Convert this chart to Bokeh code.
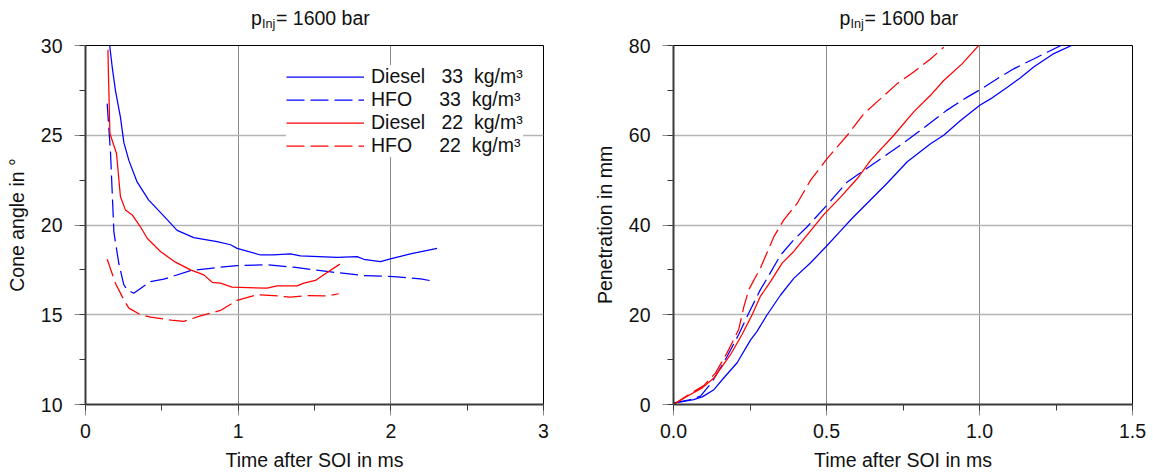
from bokeh.plotting import figure
from bokeh.layouts import row, column
from bokeh.models import (Range1d, SingleIntervalTicker, Legend, LegendItem, Label,
                          NumeralTickFormatter)
from bokeh.embed import file_html
from bokeh.resources import INLINE

# ---------------- data: cone angle (left) ----------------
t_d33 = [0.157, 0.175, 0.196, 0.229, 0.251, 0.284, 0.338, 0.413, 0.535, 0.60, 0.709, 0.862, 0.95, 0.993,
         1.146, 1.23, 1.342, 1.408, 1.648, 1.779, 1.823, 1.932, 1.997, 2.128, 2.303]
a_d33 = [30.1, 28.8, 27.5, 26.0, 24.6, 23.6, 22.4, 21.4, 20.3, 19.7, 19.3, 19.07, 18.9, 18.7,
         18.33, 18.33, 18.39, 18.28, 18.19, 18.24, 18.09, 17.96, 18.11, 18.39, 18.7]

t_h33 = [0.142, 0.164, 0.186, 0.218, 0.251, 0.273, 0.316, 0.426, 0.513, 0.688, 0.819, 0.993, 1.19,
         1.364, 1.583, 1.823, 2.02, 2.194, 2.292]
a_h33 = [26.76, 24.0, 19.6, 17.87, 16.67, 16.39, 16.2, 16.85, 16.98, 17.46, 17.59, 17.74, 17.78,
         17.65, 17.41, 17.18, 17.13, 17.0, 16.85]

t_d22 = [0.147, 0.150, 0.16, 0.203, 0.229, 0.262, 0.306, 0.36, 0.404, 0.491, 0.589, 0.688, 0.775, 0.83,
         0.884, 0.96, 1.19, 1.255, 1.386, 1.43, 1.506, 1.583, 1.666]
a_d22 = [29.76, 28.5, 25.1, 23.98, 21.57, 20.83, 20.56, 19.9, 19.26, 18.52, 17.93, 17.5, 17.22, 16.81,
         16.76, 16.54, 16.48, 16.61, 16.61, 16.76, 16.91, 17.35, 17.82]

t_h22 = [0.142, 0.196, 0.251, 0.284, 0.36, 0.426, 0.578, 0.644, 0.753, 0.884, 0.993, 1.124, 1.233,
         1.342, 1.452, 1.583, 1.659]
a_h22 = [18.09, 16.76, 15.83, 15.37, 15.0, 14.87, 14.68, 14.63, 14.94, 15.24, 15.8, 16.11, 16.07,
         15.98, 16.07, 16.05, 16.17]

# ---------------- data: penetration (right) ----------------
s_d33 = [0.0, 0.066, 0.094, 0.132, 0.164, 0.208, 0.252, 0.273, 0.306, 0.35, 0.393, 0.448, 0.499, 0.546,
         0.584, 0.698, 0.764, 0.84, 0.883, 0.938, 1.001, 1.036, 1.091, 1.134, 1.177, 1.243, 1.31]
p_d33 = [0.3, 1.1, 1.7, 3.3, 5.9, 9.3, 14.4, 16.3, 20.0, 24.4, 28.1, 31.6, 35.2, 38.7,
         41.5, 49.3, 54.1, 58.1, 60.0, 63.3, 66.7, 68.1, 70.7, 72.8, 75.2, 78.2, 80.3]

s_h33 = [0.0, 0.056, 0.088, 0.126, 0.175, 0.213, 0.246, 0.284, 0.306, 0.35, 0.393, 0.437, 0.497, 0.568,
         0.655, 0.742, 0.807, 0.894, 0.96, 1.003, 1.058, 1.112, 1.177, 1.221, 1.281]
p_h33 = [0.3, 1.1, 1.85, 5.0, 10.7, 15.6, 20.4, 25.6, 28.1, 33.3, 36.7, 39.6, 44.1, 49.6,
         53.7, 57.8, 61.1, 65.6, 68.5, 70.2, 72.6, 74.8, 77.0, 78.5, 80.5]

s_d22 = [0.0, 0.045, 0.094, 0.132, 0.186, 0.224, 0.257, 0.284, 0.317, 0.355, 0.393, 0.437, 0.491, 0.546,
         0.60, 0.644, 0.72, 0.785, 0.84, 0.883, 0.943, 1.0]
p_d22 = [0.0, 1.85, 3.7, 5.9, 11.1, 15.6, 20.0, 24.1, 27.4, 31.5, 34.1, 37.8, 42.3, 46.2,
         50.3, 54.4, 60.0, 65.2, 68.9, 72.2, 75.9, 80.2]

s_h22 = [0.0, 0.045, 0.099, 0.137, 0.175, 0.213, 0.23, 0.246, 0.284, 0.328, 0.36, 0.404, 0.448, 0.502,
         0.568, 0.622, 0.676, 0.731, 0.785, 0.84, 0.883]
p_h22 = [0.0, 2.0, 4.2, 7.0, 11.5, 16.7, 21.8, 25.6, 30.4, 37.4, 41.1, 44.8, 50.0, 54.8,
         60.0, 64.8, 68.1, 71.5, 74.1, 77.0, 79.6]

legend_labels = ["Diesel\u00a0\u00a0\u00a033\u00a0\u00a0kg/m³",
                 "HFO\u00a0\u00a0\u00a0\u00a0\u00a033\u00a0\u00a0kg/m³",
                 "Diesel\u00a0\u00a0\u00a022\u00a0\u00a0kg/m³",
                 "HFO\u00a0\u00a0\u00a0\u00a0\u00a022\u00a0\u00a0kg/m³"]

FONT = "Liberation Sans"
FS = "19.5px"
TXT = "#111111"
BLUE = "#0000ff"
RED = "#ff0000"
DASH = "18 6"
LW = 1.25
TITLE_H = 34
TOP_B = 11


def style(p, xint, yint, xlabel, ylabel, xfmt=None):
    xt = SingleIntervalTicker(interval=xint, num_minor_ticks=2)
    yt = SingleIntervalTicker(interval=yint, num_minor_ticks=2)
    p.xaxis.ticker = xt
    p.yaxis.ticker = yt
    p.xgrid.ticker = xt
    p.ygrid.ticker = yt
    if xfmt:
        p.xaxis.formatter = NumeralTickFormatter(format=xfmt)
    p.xaxis.axis_label = xlabel
    p.yaxis.axis_label = ylabel
    for ax in (p.xaxis, p.yaxis):
        ax.axis_label_text_font = FONT
        ax.axis_label_text_font_size = FS
        ax.axis_label_text_font_style = "normal"
        ax.axis_label_text_color = TXT
        ax.major_label_text_font = FONT
        ax.major_label_text_font_size = FS
        ax.major_label_text_color = TXT
        ax.axis_line_color = "#3a3a3a"
        ax.axis_line_width = 2
        ax.major_tick_in = 0
        ax.minor_tick_in = 0
        ax.major_tick_out = 11
        ax.minor_tick_out = 6
        ax.major_tick_line_color = "#8a8a8a"
        ax.minor_tick_line_color = "#3a3a3a"
    p.xaxis.major_label_standoff = 8
    p.xaxis.axis_label_standoff = 8
    p.yaxis.major_label_standoff = 12
    p.yaxis.axis_label_standoff = 10
    p.xgrid.grid_line_color = "#8c8c8c"
    p.xgrid.grid_line_width = 1
    p.ygrid.grid_line_color = "#b4b4b4"
    p.ygrid.grid_line_width = 1.5
    p.outline_line_color = "black"
    p.outline_line_width = 1
    p.background_fill_color = "white"
    p.border_fill_color = "white"


def title_fig(width, lb, rb, xr, xc):
    f = figure(width=width, height=TITLE_H, x_range=xr, y_range=Range1d(0, TITLE_H),
               output_backend="svg", toolbar_location=None, title=None,
               x_axis_location=None, y_axis_location=None,
               min_border_left=lb, min_border_right=rb, min_border_top=0, min_border_bottom=0)
    f.grid.visible = False
    f.outline_line_color = None
    f.add_layout(Label(x=xc, y=TITLE_H - 17.5, x_offset=-63.5, text="p",
                       text_font=FONT, text_font_size=FS, text_color=TXT,
                       text_baseline="alphabetic", text_align="left"))
    f.add_layout(Label(x=xc, y=TITLE_H - 23, x_offset=-52.5, text="Inj",
                       text_font=FONT, text_font_size="12.6px", text_color=TXT,
                       text_baseline="alphabetic", text_align="left"))
    f.add_layout(Label(x=xc, y=TITLE_H - 17.5, x_offset=-38.5, text="= 1600 bar",
                       text_font=FONT, text_font_size=FS, text_color=TXT,
                       text_baseline="alphabetic", text_align="left"))
    return f


# ---------------- left figure ----------------
xr1 = Range1d(0, 3)
p1 = figure(width=590, height=473 - TITLE_H, x_range=xr1, y_range=Range1d(10, 30),
            output_backend="svg", toolbar_location=None, title=None,
            min_border_left=85, min_border_right=47, min_border_top=TOP_B, min_border_bottom=68)
style(p1, 1, 5, "Time after SOI in ms", "Cone angle in °")

r1 = p1.line(t_d33, a_d33, line_color=BLUE, line_width=LW)
r2 = p1.line(t_h33, a_h33, line_color=BLUE, line_width=LW, line_dash=DASH)
r3 = p1.line(t_d22, a_d22, line_color=RED, line_width=LW)
r4 = p1.line(t_h22, a_h22, line_color=RED, line_width=LW, line_dash=DASH)

leg = Legend(items=[LegendItem(label=legend_labels[0], renderers=[r1]),
                    LegendItem(label=legend_labels[1], renderers=[r2]),
                    LegendItem(label=legend_labels[2], renderers=[r3]),
                    LegendItem(label=legend_labels[3], renderers=[r4])],
             location=(201, 247), glyph_width=78, glyph_height=23, label_height=23,
             label_standoff=7, spacing=0, padding=15, margin=0,
             label_text_font=FONT, label_text_font_size=FS, label_text_color=TXT,
             background_fill_color="white", background_fill_alpha=1.0,
             border_line_color=None)
p1.add_layout(leg)
t1 = title_fig(590, 85, 47, xr1, 1.5)

# ---------------- right figure ----------------
xr2 = Range1d(0, 1.5)
p2 = figure(width=563, height=473 - TITLE_H, x_range=xr2, y_range=Range1d(0, 80),
            output_backend="svg", toolbar_location=None, title=None,
            min_border_left=83, min_border_right=21, min_border_top=TOP_B, min_border_bottom=68)
style(p2, 0.5, 20, "Time after SOI in ms", "Penetration in mm", xfmt="0.0")

p2.line(s_d33, p_d33, line_color=BLUE, line_width=LW)
p2.line(s_h33, p_h33, line_color=BLUE, line_width=LW, line_dash=DASH)
p2.line(s_d22, p_d22, line_color=RED, line_width=LW)
p2.line(s_h22, p_h22, line_color=RED, line_width=LW, line_dash=DASH)
t2 = title_fig(563, 83, 21, xr2, 0.75)

layout = row(column(t1, p1), column(t2, p2))
open("out.html", "w").write(file_html(layout, INLINE))
